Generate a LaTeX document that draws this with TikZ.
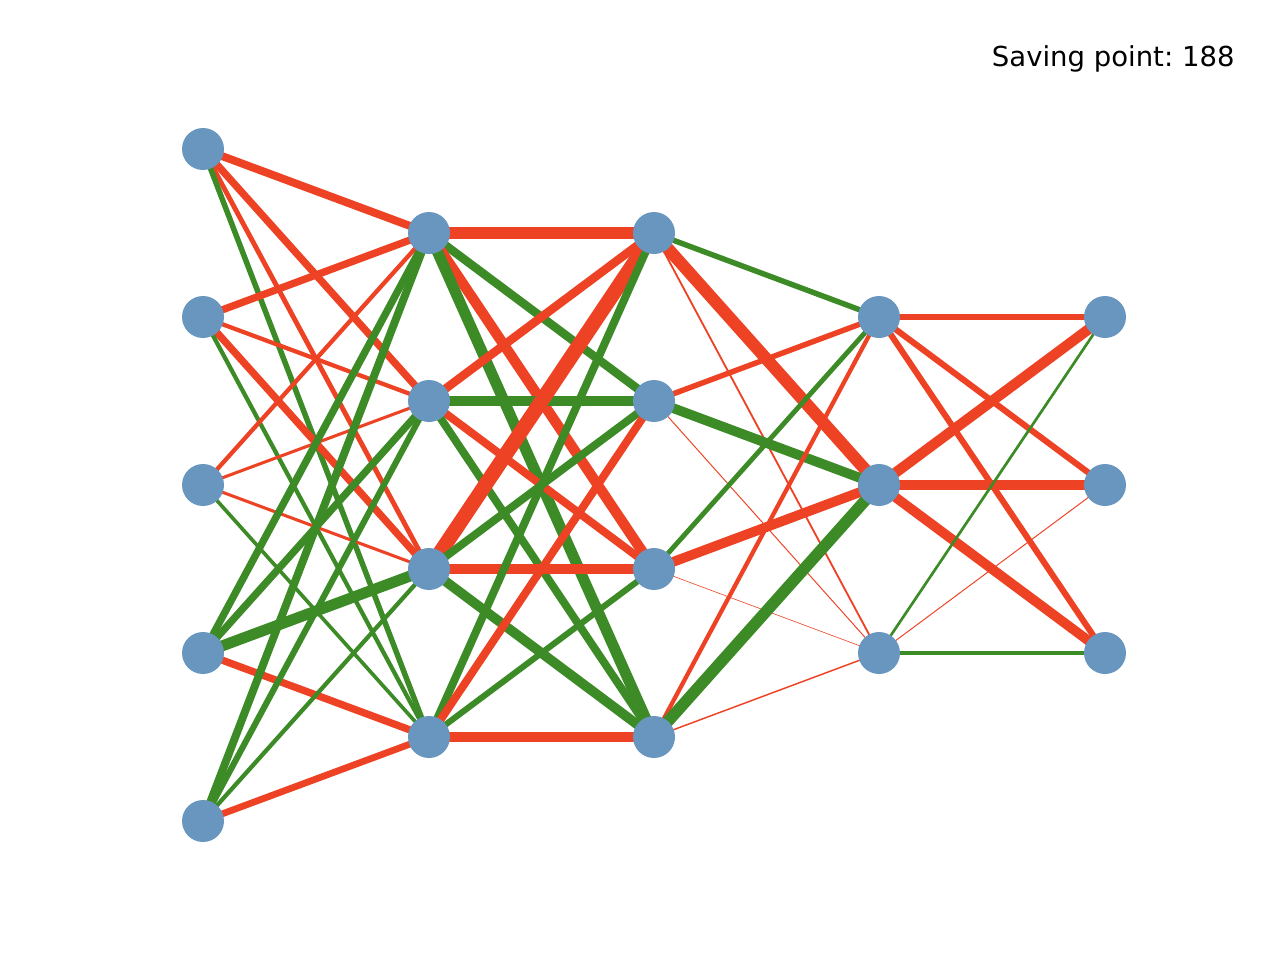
\documentclass[tikz,border=0pt]{standalone}
\usepackage{fontspec}
\setmainfont{DejaVu Sans}
\usetikzlibrary{backgrounds}
\definecolor{unitblue}{RGB}{104,150,191}
\definecolor{negred}{RGB}{238,66,36}
\definecolor{posgreen}{RGB}{61,139,39}

\begin{document}
\begin{tikzpicture}[x=1pt,y=-1pt]
    \tikzstyle{unit} = [circle,fill=unitblue,draw=none,minimum size=42pt,inner sep=0pt]
    \tikzstyle{ann} = [draw=none,fill=none,anchor=base east,font=\fontsize{27.5}{33}\selectfont\frenchspacing]
    \useasboundingbox (0,0) rectangle (1278,956);

    % units, one column per layer
    \foreach \n/\y in {1/149,2/317,3/485,4/653,5/821}
        \node[unit] (a\n) at (203,\y) {};
    \foreach \n/\y in {1/233,2/401,3/569,4/737} {
        \node[unit] (b\n) at (429,\y) {};
        \node[unit] (c\n) at (654,\y) {};
    }
    \foreach \n/\y in {1/317,2/485,3/653} {
        \node[unit] (d\n) at (879,\y) {};
        \node[unit] (e\n) at (1105,\y) {};
    }

    % weights
    \begin{pgfonlayer}{background}
    \foreach \s/\t/\c/\w in {
        a1/b1/negred/6.5, a1/b2/negred/6, a1/b3/negred/4, a1/b4/posgreen/4.5,
        a2/b1/negred/6, a2/b2/negred/3.5, a2/b3/negred/6, a2/b4/posgreen/3.5,
        a3/b1/negred/3.5, a3/b2/negred/2.5, a3/b3/negred/2.5, a3/b4/posgreen/3,
        a4/b1/posgreen/6, a4/b2/posgreen/6, a4/b3/posgreen/9, a4/b4/negred/6,
        a5/b1/posgreen/6.5, a5/b2/posgreen/5, a5/b3/posgreen/3.5, a5/b4/negred/5.5,
        b1/c1/negred/9.5, b1/c2/posgreen/7, b1/c3/negred/8.5, b1/c4/posgreen/9,
        b2/c1/negred/7, b2/c2/posgreen/8.5, b2/c3/negred/6.5, b2/c4/posgreen/6.5,
        b3/c1/negred/12, b3/c2/posgreen/6.5, b3/c3/negred/8, b3/c4/posgreen/8,
        b4/c1/posgreen/6.5, b4/c2/negred/6.5, b4/c3/posgreen/5, b4/c4/negred/9,
        c1/d1/posgreen/4.5, c1/d2/negred/10, c1/d3/negred/1.5,
        c2/d1/negred/4.5, c2/d2/posgreen/8, c2/d3/negred/0.8,
        c3/d1/posgreen/4, c3/d2/negred/8, c3/d3/negred/0.5,
        c4/d1/negred/3.5, c4/d2/posgreen/9.5, c4/d3/negred/1.2,
        d1/e1/negred/5, d1/e2/negred/5, d1/e3/negred/5,
        d2/e1/negred/8.5, d2/e2/negred/7.5, d2/e3/negred/8,
        d3/e1/posgreen/2.2, d3/e2/negred/0.8, d3/e3/posgreen/3.2}
        \draw[\c,line width=\w*1.22pt] (\s.center) -- (\t.center);
    \end{pgfonlayer}

    \node[ann] (title) at (1238,66) {Saving point: 188};
\end{tikzpicture}
\end{document}
